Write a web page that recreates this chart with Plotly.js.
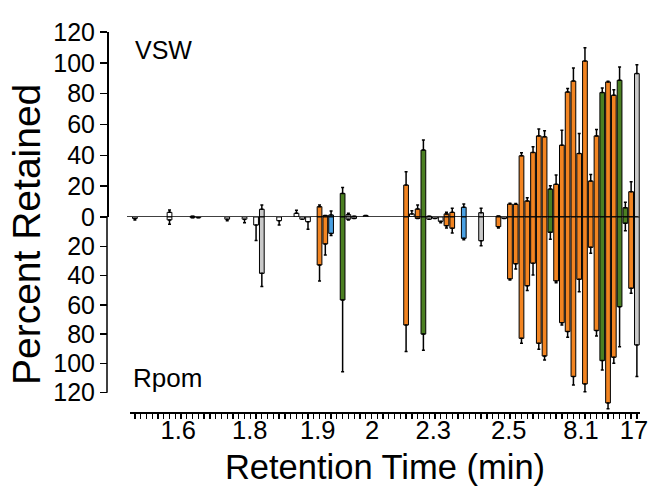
<!DOCTYPE html>
<html>
<head>
<meta charset="utf-8">
<script src="https://cdn.plot.ly/plotly-3.0.1.min.js"></script>
<style>html,body{margin:0;padding:0;background:#fff;}</style>
</head>
<body>
<div id="chart" style="width:652px;height:487px;"></div>
<script>
// Percent retained, VSW (upper panel), one entry per retention-time slot
const vsw = [null,null,null,null,null,null,3,null,null,null,
  0.5,null,null,null,null,null,null,null,null,null,
  null,null,5,null,null,null,null,null,2.4,null,
  null,null,6.7,1,1.3,null,15.3,1.5,0.5,null,
  1,null,null,null,null,null,null,20.7,2,5.2,
  43.4,0.5,null,null,2,3,null,6.3,null,null,
  2.8,null,null,0.6,null,8.4,8.2,39.7,10.4,41.9,
  52.6,52,18.1,21.2,46.6,81.1,88.2,41.2,101.2,23.3,
  52.6,80.7,87.6,79,88.7,6,16.4,93];
const vswErr = [null,null,null,null,null,null,1.5,null,null,null,
  0,null,null,null,null,null,null,null,null,null,
  null,null,2.8,null,null,null,null,null,2,null,
  null,null,1,0,2.6,null,3.9,1,0,null,
  0,null,null,null,null,null,null,8.6,2,2.6,
  6.6,0,null,null,1,2.6,null,2.1,null,null,
  2.8,null,null,0,null,0.5,0.5,1.9,2.1,3.6,
  4.4,3.9,2.2,6,9.7,2.2,8.4,13,8.6,4.3,
  4.2,3,0.5,3.6,8.6,3.5,6.4,5.8];
// Percent retained, Rpom (lower panel)
const rpom = [1,null,null,null,null,null,2,null,null,null,
  0.5,0.5,null,null,null,null,1.5,null,null,1.5,
  null,5.5,38.5,null,null,2.5,null,null,null,1.5,
  3.2,null,32.8,18.4,11.2,null,56.7,1.5,1,null,
  null,null,null,null,null,null,null,73.8,null,1,
  80,1.5,1,3,6,7.7,null,14.6,null,null,
  16.2,null,null,6.6,1,42.3,32,82.9,47,31.6,
  86.3,95,10.5,43.7,72.2,78.3,109,42.6,114,20.7,
  77.6,98.1,127,95.8,61.3,4.3,48.7,87.4];
const rpomErr = [1,null,null,null,null,null,3,null,null,null,
  0,0,null,null,null,null,1,null,null,2.5,
  null,10.5,9,null,null,3,null,null,null,0,
  5.2,null,11,7.6,1.5,null,49,0.5,0,null,
  null,null,null,null,null,null,null,18,null,0,
  11,0,0,1,1.5,3.3,null,1,null,null,
  3.4,null,null,1,0,0.7,3.5,3.4,3.3,8,
  4.1,2.7,4.7,1.2,1.6,3.9,5.8,8.4,5.3,4.1,
  3.7,6.4,4,4.1,27.3,5.1,3.4,21.6];
// compound class per slot: o orange, g green, b blue, s grey, w white
const compoundClass = ['w','','','','','','w','','','',
  'w','w','','','','','w','','','w',
  '','w','s','','','w','','','w','w',
  'w','','o','o','b','','g','w','w','',
  'w','','','','','','','o','w','o',
  'g','w','w','w','o','o','','b','','',
  's','','','o','w','o','o','o','o','o',
  'o','o','g','o','o','o','o','o','o','o',
  'o','g','o','o','g','g','o','s'];
// retention-time tick labels and the slot they sit under
const tickLabels = ['1.6','1.8','1.9','2','2.3','2.5','8.1','17'];
const tickSlots = [7.5,19.9,31.7,41.1,51.7,64.8,77.3,86.5];

const palette = {o:'#F28421', g:'#4B7F22', b:'#4AA0E2', s:'#C9C9C9', w:'#FFFFFF', '':'rgba(0,0,0,0)'};
const slots = vsw.map((_, i) => i);
const barColors = compoundClass.map(c => palette[c]);
const zeros = vsw.map(() => 0);

const errStyle = {type:'data', symmetric:false, color:'#000', thickness:1.5, width:1.5, arrayminus:zeros};

const traces = [
  {type:'bar', name:'VSW', x:slots, y:vsw, xaxis:'x', yaxis:'y', width:0.82,
   marker:{color:barColors, line:{color:'#000', width:1}},
   error_y:Object.assign({}, errStyle, {array:vswErr}), hoverinfo:'x+y'},
  {type:'bar', name:'Rpom', x:slots, y:rpom, xaxis:'x', yaxis:'y2', width:0.82,
   marker:{color:barColors, line:{color:'#000', width:1}},
   error_y:Object.assign({}, errStyle, {array:rpomErr}), hoverinfo:'x+y'},
  {type:'scatter', mode:'none', x:[tickSlots[0]], y:[null], xaxis:'x2', yaxis:'y', hoverinfo:'skip', showlegend:false}
];

const font = 'Liberation Sans, Arial, Helvetica, sans-serif';
const xDomain = [0.04315, 1];
const xRange = [-0.849, 87.54];
const layout = {
  width:652, height:487,
  margin:{l:107, r:12, t:32, b:75, pad:0},
  paper_bgcolor:'#fff', plot_bgcolor:'#fff',
  showlegend:false, barmode:'overlay',
  font:{family:font, color:'#000', size:25},
  xaxis:{domain:xDomain, range:xRange, anchor:'free', position:0,
    showline:true, linewidth:1.5, linecolor:'#000', showgrid:false, zeroline:false,
    tickmode:'array', tickvals:slots, showticklabels:false,
    ticks:'outside', ticklen:5, tickwidth:1.3, tickcolor:'#000'},
  xaxis2:{domain:xDomain, range:xRange, anchor:'free', position:0, overlaying:'x',
    showline:false, showgrid:false, zeroline:false,
    tickmode:'array', tickvals:tickSlots, ticktext:tickLabels, ticks:'',
    tickfont:{size:25.5, family:font},
    title:{text:'Retention Time (min)', font:{size:34.5, family:font}, standoff:12}},
  yaxis:{domain:[0.5132,1], range:[0,120], anchor:'free', position:0,
    showline:true, linewidth:1.5, linecolor:'#000', showgrid:false, zeroline:false,
    tickmode:'array', tickvals:[0,20,40,60,80,100,120], ticks:'outside', ticklen:7, tickwidth:1.5, tickcolor:'#000',
    tickfont:{size:25, family:font}},
  yaxis2:{domain:[0,0.5132], range:[133.2,0], anchor:'free', position:0,
    showline:false, showgrid:false, zeroline:false,
    tickmode:'array', tickvals:[20,40,60,80,100,120], ticks:'outside', ticklen:7, tickwidth:1.5, tickcolor:'#000',
    tickfont:{size:25, family:font}},
  shapes:[
    {type:'line', xref:'paper', yref:'y', x0:0.0375, x1:0.996, y0:0, y1:0, line:{color:'#000', width:1.7}, layer:'above'},
    {type:'line', xref:'paper', yref:'y2', x0:0, x1:0, y0:0, y1:120, line:{color:'#000', width:1.5}, layer:'above'}
  ],
  annotations:[
    {text:'VSW', xref:'paper', yref:'paper', x:0.0488, y:0.9526, xanchor:'left', yanchor:'middle', showarrow:false, font:{size:25, family:font}},
    {text:'Rpom', xref:'paper', yref:'paper', x:0.045, y:0.0895, xanchor:'left', yanchor:'middle', showarrow:false, font:{size:26, family:font}},
    {text:'Percent Retained', xref:'paper', yref:'paper', x:-0.150, y:0.4658, xanchor:'center', yanchor:'middle', textangle:-90, showarrow:false, font:{size:39, family:font}}
  ]
};

Plotly.newPlot('chart', traces, layout, {displayModeBar:false, staticPlot:true});
</script>
</body>
</html>
